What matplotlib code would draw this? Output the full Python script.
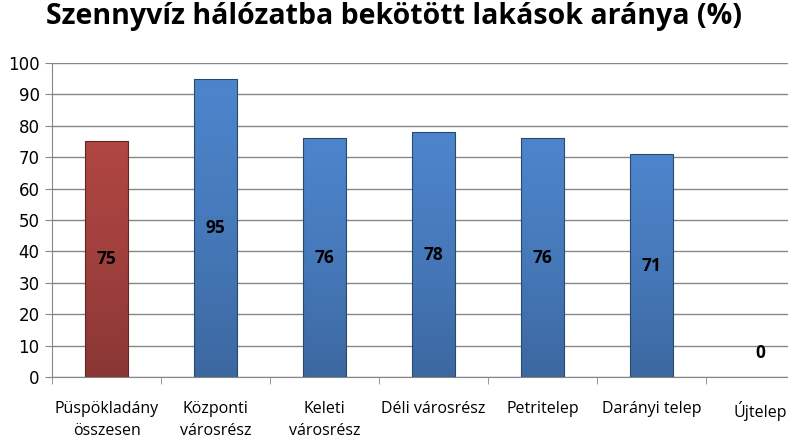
import matplotlib.pyplot as plt
import numpy as np
from matplotlib.colors import LinearSegmentedColormap

categories = ["Püspökladány\nösszesen", "Központi\nvárosrész", "Keleti\nvárosrész",
              "Déli városrész", "Petritelep", "Darányi telep", "Újtelep"]
values = [75, 95, 76, 78, 76, 71, 0]
colors = ["#A0403D", "#4679BA", "#4679BA", "#4679BA", "#4679BA", "#4679BA", "#4679BA"]
title = "Szennyvíz hálózatba bekötött lakások aránya (%)"

fig = plt.figure(figsize=(7.88, 4.36), dpi=100)
ax = fig.add_axes([52 / 788, 1 - 377 / 436, (815 - 52) / 788, (377 - 63) / 436])

x = np.arange(len(categories))
bars = ax.bar(x, values, width=0.4, color=colors, edgecolor="none", zorder=3)

# gradient shading per bar (light top -> darker bottom)
grad = np.linspace(1, 0, 256).reshape(-1, 1)
for b, c in zip(bars, colors):
    if b.get_height() <= 0:
        continue
    base = np.array(plt.matplotlib.colors.to_rgb(c))
    cmap = LinearSegmentedColormap.from_list("g", [base * 0.86, base, np.minimum(base * 1.1, 1)])
    x0, y0 = b.get_x(), b.get_y()
    im = ax.imshow(grad, extent=[x0, x0 + b.get_width(), y0, y0 + b.get_height()],
                   aspect="auto", cmap=cmap, zorder=3.5)
    im.set_clip_path(b)
    ax.add_patch(plt.Rectangle((x0, y0), b.get_width(), b.get_height(), fill=False,
                               edgecolor=base * 0.6, linewidth=0.8, zorder=4))

for xi, v in zip(x, values):
    ax.text(xi, max(v / 2, 7.5), str(v), ha="center", va="center",
            fontsize=12.5, fontweight="bold", family="Open Sans", zorder=5)

ax.set_xlim(-0.5, len(categories) - 0.5)
ax.set_ylim(0, 100)
ax.set_yticks(range(0, 101, 10))
ax.yaxis.grid(True, color="#868686", linewidth=1, zorder=0)
ax.set_axisbelow(True)

ax.set_xticks(x)
ax.set_xticklabels(categories, fontsize=11.5, family="Open Sans", linespacing=1.5,
                   va="top")
ax.tick_params(axis="x", length=0, pad=17)
ax.set_xticks(np.arange(-0.5, len(categories), 1), minor=True)
ax.tick_params(axis="x", which="minor", length=5, color="#868686")
ax.tick_params(axis="y", length=5, color="#868686", labelsize=12, pad=4)

for s in ["top", "right"]:
    ax.spines[s].set_visible(False)
for s in ["left", "bottom"]:
    ax.spines[s].set_color("#868686")

fig.text(0.5, 0.962, title, ha="center", va="center", fontsize=20.5,
         fontweight="bold", family="Open Sans")

fig.savefig("out.png", dpi=100)
